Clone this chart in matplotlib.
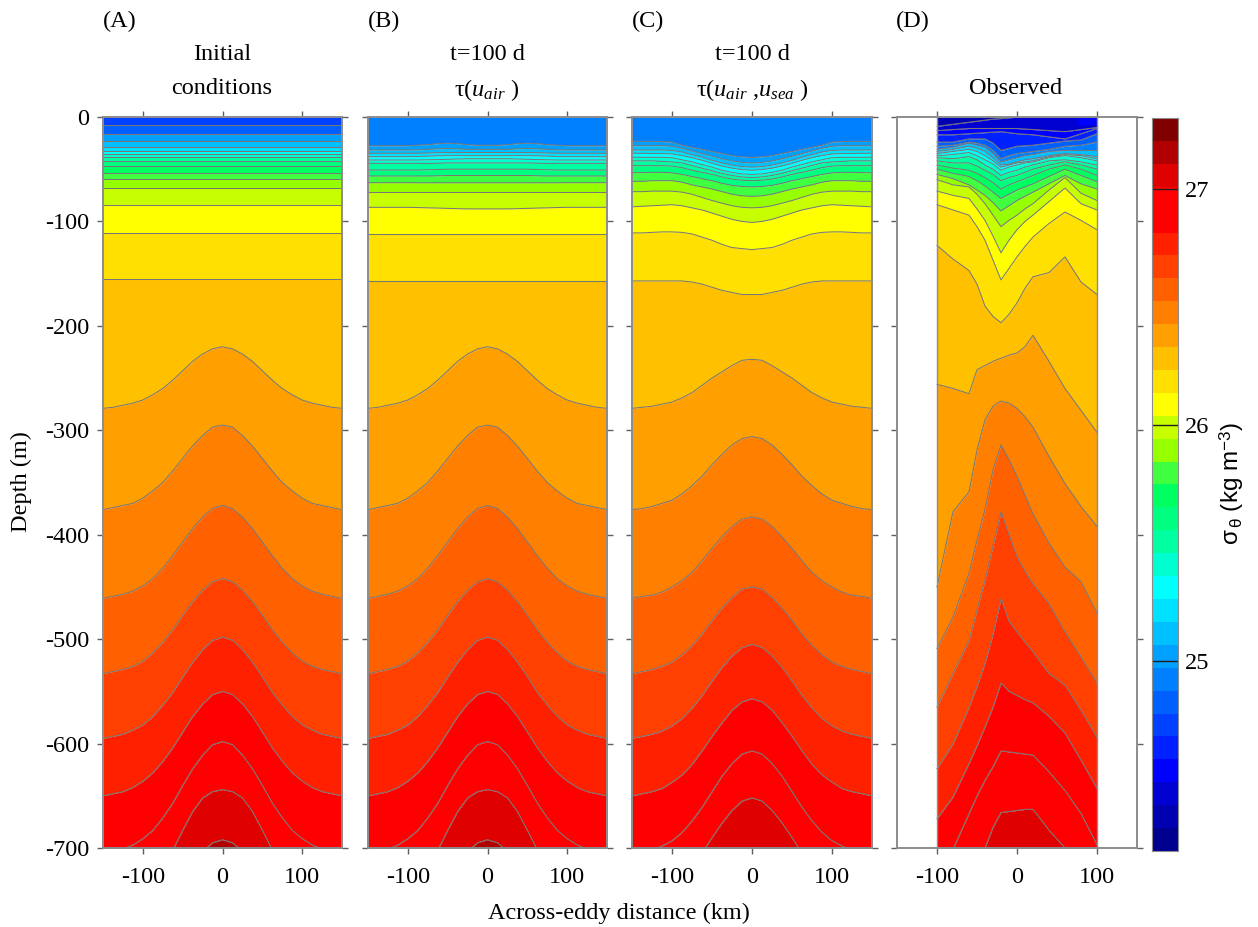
"""Section panels of isopycnal depth across an eddy: model runs and observations."""

import matplotlib
matplotlib.use("Agg")
import matplotlib.pyplot as plt
import numpy as np
from matplotlib.colors import ListedColormap

WIDTH, HEIGHT = 1258, 927

plt.rcParams["font.family"] = ["Liberation Serif", "DejaVu Serif"]
plt.rcParams["axes.unicode_minus"] = False
plt.rcParams["mathtext.fontset"] = "custom"
plt.rcParams["mathtext.rm"] = "Liberation Sans"
plt.rcParams["mathtext.it"] = "Liberation Serif:italic"

# colour bands, bottom of the scale to the top
band_colors = [
    "#000090", "#0000b0", "#0000d0", "#0000ff", "#0020ff", "#0040ff", "#0060ff", "#0080ff",
    "#00a0ff", "#00c0ff", "#00e0ff", "#00ffff", "#00ffd0", "#00ffa0", "#00ff80", "#00ff60",
    "#40ff40", "#96ff00", "#c8ff00", "#ffff00", "#ffe000", "#ffc000", "#ffa000", "#ff8000",
    "#ff6000", "#ff4000", "#ff2000", "#ff0000", "#ff0000", "#df0000", "#b00000", "#800000",
]
cbar_min, cbar_max = 24.198, 27.3
cbar_ticks = [25, 26, 27]

x_ticks = [-100, 0, 100]
y_ticks = [0, -100, -200, -300, -400, -500, -600, -700]

# model panels are symmetric, depths are given from the eddy centre outwards
half_x = [0, 12.5, 25, 37.5, 50, 62.5, 75, 87.5, 100, 112.5, 125, 137.5, 150]

a_flat_depth = [-8, -16.6, -22.7, -28.4, -33, -35.6, -38.5, -41.8, -47, -53.3, -59.6,
                -68.3, -84.6, -111, -155]
deep_rows = [
    [-220, -222, -227, -234, -243, -252, -260, -266, -271, -274, -276, -278, -279],
    [-295, -297, -305, -315, -327, -339, -350, -358, -365, -370, -372, -374, -376],
    [-372, -375, -383, -394, -407, -420, -432, -442, -449, -454, -457, -459, -461],
    [-442, -445, -453, -464, -477, -491, -503, -513, -521, -526, -529, -531, -533],
    [-498, -501, -510, -522, -536, -551, -563, -574, -582, -587, -591, -593, -595],
    [-550, -553, -562, -574, -589, -604, -617, -628, -636, -642, -646, -648, -650],
    [-598, -601, -611, -624, -640, -657, -671, -683, -691, -697, -701, -704, -706],
    [-644, -646, -652, -665, -683, -702, -720, -735, -750, -755, -760, -765, -770],
    [-692, -695, -703, -720, -740, -760, -775, -785, -790, -795, -800, -805, -810],
]
a_bands = [6, 7, 9, 10, 11, 12, 13, 14, 15, 16, 17, 18, 19, 20, 21, 22,
           23, 24, 25, 26, 27, 28, 29, 30, 31]

b_rows = [
    [-27, -27, -26.5, -25.5, -25, -25.5, -26.5, -27, -27.5, -27.5, -27.5, -27.5, -27.5],
    [-31, -31, -31, -30.5, -30, -30.5, -31, -31.5, -31.6, -31.6, -31.6, -31.6, -31.6],
    [-34, -34, -34, -34, -34, -34.2, -34.5, -34.7, -34.8, -34.8, -34.8, -34.8, -34.8],
    [-37, -37, -37, -37, -37, -37.2, -37.5, -37.8, -38, -38, -38, -38, -38],
    [-40, -40, -40, -40.2, -40.5, -40.8, -41, -41.2, -41.2, -41.2, -41.2, -41.2, -41.2],
    [-44, -44, -44, -44, -44, -44.3, -44.5, -44.4, -44.4, -44.4, -44.4, -44.4, -44.4],
    [-50, -50, -50, -50, -50, -50.3, -50.5, -50.8, -50.8, -50.8, -50.8, -50.8, -50.8],
    [-56, -56, -56, -56, -56, -56.3, -56.5, -56.5, -56.5, -56.5, -56.5, -56.5, -56.5],
    [-63, -63, -63, -63, -63, -63, -63, -63, -62.9, -62.9, -62.9, -62.9, -62.9],
    [-71.5, -71.5, -71.5, -71.5, -71.5, -71.5, -71.5, -71.5, -71.5, -71.5, -71.5, -71.5, -71.5],
    [-88, -88, -88, -87.8, -87.5, -87.2, -87, -86.7, -86.5, -86.5, -86.5, -86.5, -86.5],
    [-112, -112, -112, -112, -112, -112, -112, -112, -112, -112, -112, -112, -112],
    [-157, -157, -157, -157, -157, -157, -157, -157, -157, -157, -157, -157, -157],
]
b_bands = [8, 9, 10, 11, 12, 13, 14, 15, 17, 18, 19, 20, 21, 22,
           23, 24, 25, 26, 27, 28, 29, 30, 31]

c_rows = [
    [-38.6, -38.2, -37, -35, -33, -31, -29, -27, -24, -23.5, -23.4, -23.3, -23.3],
    [-44, -43.5, -42, -40, -37.5, -35, -32.5, -30, -28, -27.5, -27.5, -27.5, -27.5],
    [-48, -47.5, -46, -44, -41.5, -38.5, -36, -33.5, -32, -31.6, -31.6, -31.6, -31.6],
    [-51, -50.5, -49, -47, -44.5, -41.5, -39, -37, -35.5, -35, -35, -34.8, -34.8],
    [-55, -54.5, -53, -51, -48, -45.5, -43, -41, -39, -38.6, -38.6, -38.6, -38.6],
    [-58, -57.5, -56, -54, -51.5, -49, -46.5, -44, -43, -42.5, -42, -42, -42],
    [-61, -60.5, -59.5, -57.5, -55, -53, -51, -48.5, -47, -46.6, -46.6, -46.6, -46.6],
    [-67, -66.5, -65.5, -63.5, -61, -59, -57, -55, -53.5, -53, -53, -53.3, -53.3],
    [-76, -75.5, -74, -71.5, -69, -67, -65, -62.5, -61, -61, -61, -61.6, -61.6],
    [-87, -86.5, -85, -82.5, -80, -77, -74, -72, -71, -71, -71, -71.5, -71.5],
    [-101, -100, -98, -95, -92, -89, -87, -85, -84, -84.5, -85, -85.5, -86],
    [-127, -126, -125, -122, -118, -115, -112, -110.5, -110, -110, -110.5, -111, -111],
    [-170, -170, -168, -166, -163, -160, -158, -157, -157, -157, -157, -157, -157],
    [-232, -233, -238, -244, -250, -257, -264, -269, -273, -275, -277, -278, -279],
    [-306, -308, -314, -323, -333, -344, -353, -361, -367, -370, -373, -375, -376],
    [-383, -385, -392, -402, -413, -425, -436, -444, -450, -455, -458, -459, -461],
    [-450, -452, -460, -470, -482, -495, -506, -515, -522, -526, -529, -531, -533],
    [-505, -508, -516, -527, -540, -554, -566, -576, -583, -588, -591, -593, -595],
    [-557, -560, -568, -580, -593, -607, -620, -630, -637, -643, -646, -648, -650],
    [-607, -610, -619, -631, -646, -661, -674, -685, -693, -698, -702, -704, -706],
    [-652, -655, -664, -676, -690, -705, -720, -735, -745, -750, -755, -760, -765],
]
c_bands = [8, 9, 10, 11, 12, 13, 14, 15, 17, 18, 19, 20, 21, 22,
           23, 24, 25, 26, 27, 28, 29, 30]

# observed section
d_x = [-100, -80, -60, -50, -40, -30, -20, -10, 0, 10, 20, 40, 60, 80, 100]
d_rows = [
    [-9, -7, -5, -4, -3, -2, -1.5, -0.8, -0.3, 0, 0, 0, 0, 0, 0],
    [-13, -12, -11, -11, -11, -11, -11, -11, -11, -11.5, -12, -13, -14, -12, -10],
    [-17, -17, -16, -15.5, -15, -14.5, -14, -15, -16, -16.5, -17, -19, -21, -16, -11],
    [-24, -24, -21, -21, -21, -25, -32, -30, -28, -27.5, -27, -25, -23, -22, -16],
    [-28, -27, -24, -25, -27, -32, -40, -37, -35, -34, -33, -31, -28, -27, -24],
    [-31, -29, -25, -27, -29, -35, -43, -41, -39, -37, -36, -33, -32, -32, -32],
    [-33, -31, -28, -30, -33, -39, -46, -45, -43, -41, -40, -37, -35, -36, -38],
    [-35, -33, -31, -33, -37, -42, -48, -46, -44, -43, -42, -38, -36, -37, -40],
    [-37, -36, -34, -37, -41, -45, -51, -48, -46, -44, -43, -39, -37, -39, -42],
    [-39, -40, -38, -41, -46, -50, -56, -53, -51, -48, -46, -42, -41, -43, -46],
    [-42, -44, -44, -47, -51, -55, -61, -58, -56, -53, -50, -46, -43, -46, -50],
    [-46, -49, -51, -54, -58, -63, -69, -65, -62, -59, -56, -50, -46, -50, -56],
    [-50, -54, -57, -61, -66, -72, -78, -74, -70, -67, -64, -57, -50, -56, -62],
    [-55, -59, -65, -70, -75, -82, -90, -85, -80, -76, -72, -64, -56, -64, -69],
    [-60, -65, -67, -74, -83, -94, -105, -99, -94, -88, -83, -70, -58, -73, -80],
    [-71, -75, -78, -88, -99, -114, -130, -118, -108, -100, -94, -81, -68, -83, -89],
    [-84, -89, -94, -105, -118, -137, -156, -145, -134, -124, -115, -102, -91, -99, -108],
    [-123, -136, -147, -160, -181, -191, -197, -189, -178, -164, -153, -149, -134, -158, -170],
    [-256, -260, -265, -242, -238, -234, -231, -228, -226, -220, -209, -234, -260, -281, -302],
    [-450, -378, -359, -319, -290, -277, -272, -274, -279, -287, -297, -325, -351, -373, -392],
    [-509, -479, -437, -405, -376, -338, -314, -328, -344, -362, -380, -408, -431, -445, -475],
    [-565, -533, -501, -472, -443, -411, -378, -400, -421, -435, -447, -466, -493, -517, -542],
    [-624, -600, -565, -545, -523, -495, -461, -483, -493, -503, -512, -533, -544, -568, -594],
    [-672, -651, -619, -602, -584, -565, -542, -550, -554, -558, -561, -574, -590, -616, -643],
    [-720, -701, -667, -650, -635, -622, -607, -608, -609, -610, -611, -627, -645, -667, -697],
    [-740, -740, -730, -715, -700, -680, -666, -665, -664, -663, -663, -683, -700, -730, -750],
]
d_bands = [2, 3, 4, 5, 7, 8, 10, 11, 12, 13, 14, 15, 16, 17, 18, 19, 20, 21,
           22, 23, 24, 25, 26, 27, 28, 29, 30]
d_corner_x = [76, 100]
d_corner_depth = [-8, -7]

line_color = "#787878"
spine_color = "#8c8c8c"
text_size = 17.5


def mirror(row):
    return np.r_[row[:0:-1], row]


def axes_px(left, top, right, bottom):
    return plt.axes([left / WIDTH, 1 - bottom / HEIGHT, (right - left) / WIDTH, (bottom - top) / HEIGHT])


def fig_text(fig, x, y, label, **kwargs):
    kwargs.setdefault("fontsize", text_size)
    fig.text(x / WIDTH, 1 - y / HEIGHT, label, ha="center", va="center", **kwargs)


def draw_section(ax, x, rows, bands):
    top = np.zeros(len(x))
    for row, band in zip(rows, bands):
        ax.fill_between(x, top, row, color=band_colors[band - 1], linewidth=0)
        top = np.array(row)
    ax.fill_between(x, top, -900, color=band_colors[bands[-1] - 1], linewidth=0)
    for row in rows:
        ax.plot(x, row, color=line_color, linewidth=0.75)


def style_panel(ax, label_y=False):
    ax.set_xlim(-150, 150)
    ax.set_ylim(-700, 0)
    ax.set_xticks(x_ticks)
    ax.set_yticks(y_ticks)
    ax.set_xticklabels([str(t) for t in x_ticks])
    ax.set_yticklabels([str(t) for t in y_ticks] if label_y else [])
    ax.tick_params(axis="both", direction="out", length=4.5, width=1, color="#606060",
                   top=True, right=True, labelsize=text_size, pad=9)
    ax.tick_params(axis="y", pad=5.5)
    for spine in ax.spines.values():
        spine.set_color(spine_color)
        spine.set_linewidth(1.4)


fig = plt.figure(figsize=(WIDTH / 100, HEIGHT / 100), dpi=100)
model_x = np.r_[-np.array(half_x[:0:-1]), half_x]

ax_a = axes_px(103, 117, 342, 848)
a_rows = [[d] * len(half_x) for d in a_flat_depth] + deep_rows
draw_section(ax_a, model_x, [mirror(r) for r in a_rows], a_bands)
style_panel(ax_a, label_y=True)

ax_b = axes_px(368, 117, 607, 848)
draw_section(ax_b, model_x, [mirror(r) for r in b_rows + deep_rows], b_bands)
style_panel(ax_b)

ax_c = axes_px(632, 117, 872, 848)
draw_section(ax_c, model_x, [mirror(r) for r in c_rows], c_bands)
style_panel(ax_c)

ax_d = axes_px(897, 117, 1137, 848)
draw_section(ax_d, d_x, d_rows, d_bands)
ax_d.fill_between(d_corner_x, 0, d_corner_depth, color=band_colors[3], linewidth=0)
ax_d.vlines([d_x[0], d_x[-1]], -700, 0, color=spine_color, linewidth=1)
style_panel(ax_d)

ax_cb = axes_px(1152, 118, 1178, 851)
edges = np.linspace(cbar_min, cbar_max, len(band_colors) + 1)
ax_cb.pcolormesh([0, 1], edges, np.arange(len(band_colors)).reshape(-1, 1),
                 cmap=ListedColormap(band_colors), shading="flat")
ax_cb.hlines(cbar_ticks, 0, 1, color="#202020", linewidth=1)
ax_cb.set_xticks([])
ax_cb.yaxis.tick_right()
ax_cb.set_yticks(cbar_ticks)
ax_cb.set_yticklabels([str(t) for t in cbar_ticks])
ax_cb.tick_params(axis="y", length=0, labelsize=text_size, pad=5)
for spine in ax_cb.spines.values():
    spine.set_color(spine_color)
    spine.set_linewidth(0.8)

for x, label in zip([120, 384, 648, 913], ["(A)", "(B)", "(C)", "(D)"]):
    fig_text(fig, x, 21, label)
fig_text(fig, 222, 54, "Initial")
fig_text(fig, 222, 88, "conditions")
fig_text(fig, 487, 54, "t=100 d")
fig_text(fig, 487, 90, "τ($u_{air}$ )")
fig_text(fig, 752, 54, "t=100 d")
fig_text(fig, 752, 90, "τ($u_{air}$ ,$u_{sea}$ )")
fig_text(fig, 1016, 88, "Observed")
fig_text(fig, 619, 913, "Across-eddy distance (km)")
fig_text(fig, 21, 482, "Depth (m)", rotation=90)
fig_text(fig, 1232, 483, "σ$_{\\,\\mathrm{\\theta}}$ (kg m$^{\\mathrm{-3}}$)", rotation=90,
         family=["Liberation Sans", "DejaVu Sans"], fontsize=17.5)

fig.savefig("out.png", dpi=100)
plt.close(fig)
